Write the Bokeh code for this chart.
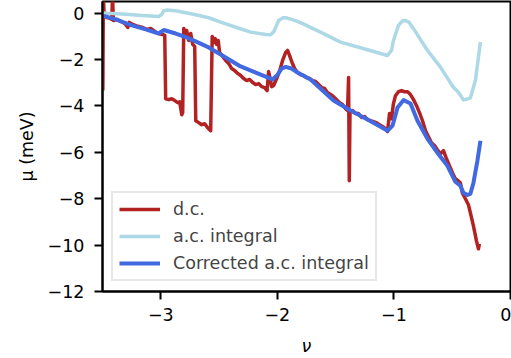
from bokeh.plotting import figure
from bokeh.models import Range1d, FixedTicker, Legend, LegendItem
from bokeh.embed import file_html
from bokeh.resources import INLINE

# --- data -------------------------------------------------------------
# d.c. measurement of the chemical potential vs filling
dc_nu = [-3.497, -3.493, -3.485, -3.463, -3.437, -3.42, -3.414, -3.407, -3.377,
         -3.343, -3.309, -3.283, -3.27, -3.24, -3.198, -3.155, -3.12, -3.086,
         -3.052, -3.018, -2.985, -2.966, -2.958, -2.932, -2.906, -2.88, -2.855,
         -2.838, -2.82, -2.812, -2.803, -2.79, -2.778, -2.76, -2.743, -2.726,
         -2.709, -2.7, -2.675, -2.649, -2.623, -2.598, -2.572, -2.559, -2.546,
         -2.533, -2.521, -2.508, -2.495, -2.469, -2.443, -2.418, -2.392, -2.366,
         -2.34, -2.315, -2.289, -2.263, -2.238, -2.212, -2.186, -2.16, -2.135,
         -2.109, -2.088, -2.075, -2.062, -2.049, -2.032, -2.006, -1.98, -1.955,
         -1.929, -1.912, -1.895, -1.874, -1.852, -1.827, -1.801, -1.775, -1.75,
         -1.724, -1.698, -1.672, -1.646, -1.621, -1.595, -1.569, -1.543, -1.518,
         -1.492, -1.466, -1.441, -1.415, -1.398, -1.389, -1.383, -1.377, -1.355,
         -1.329, -1.304, -1.278, -1.252, -1.227, -1.201, -1.175, -1.15, -1.124,
         -1.098, -1.072, -1.055, -1.038, -1.021, -1.004, -0.987, -0.961, -0.935,
         -0.909, -0.883, -0.858, -0.832, -0.806, -0.781, -0.755, -0.729, -0.704,
         -0.678, -0.652, -0.627, -0.601, -0.575, -0.549, -0.524, -0.498, -0.473,
         -0.447, -0.43, -0.413, -0.387, -0.361, -0.344, -0.318, -0.292, -0.275,
         -0.267]
dc_mu = [-3.34, 0.75, -0.14, -0.19, -0.23, -0.27, 0.75, -0.32, -0.27,
         -0.36, -0.44, -0.62, -0.4, -0.49, -0.57, -0.62, -0.7, -0.66,
         -0.79, -0.88, -0.92, -0.96, -3.69, -3.73, -3.69, -3.77, -3.86,
         -3.82, -4.38, -4.29, -0.66, -1.0, -0.75, -1.18, -0.88, -1.35,
         -1.44, -4.64, -4.72, -4.81, -4.77, -4.94, -5.07, -1.01, -1.27,
         -1.1, -1.35, -1.18, -1.7, -1.87, -2.04, -2.17, -2.39, -2.48,
         -2.6, -2.69, -2.82, -2.91, -2.86, -2.99, -3.08, -3.04, -3.17,
         -3.21, -3.34, -2.52, -2.82, -3.17, -3.12, -2.82, -2.48, -2.04,
         -1.7, -1.61, -1.83, -2.13, -2.39, -2.56, -2.65, -2.69, -2.78,
         -2.82, -2.91, -2.95, -3.08, -3.21, -3.25, -3.43, -3.51, -3.6,
         -3.73, -3.86, -3.94, -4.12, -4.2, -2.78, -7.23, -4.29, -4.2,
         -4.33, -4.33, -4.5, -4.46, -4.59, -4.64, -4.68, -4.72, -4.81,
         -4.89, -4.98, -5.11, -4.33, -4.55, -3.9, -3.56, -3.39, -3.34,
         -3.39, -3.39, -3.51, -3.73, -3.99, -4.29, -4.64, -5.07, -5.33,
         -5.59, -5.71, -5.89, -6.06, -5.93, -6.28, -6.58, -6.88, -7.14,
         -7.23, -7.32, -7.75, -8.0, -8.26, -8.61, -9.17, -9.82, -10.16,
         -9.95]

# a.c. integral
ac_nu = [-3.49, -3.3, -3.163, -3.018, -2.99, -2.975, -2.95, -2.872, -2.72,
         -2.589, -2.486, -2.35, -2.229, -2.1, -2.058, -2.03, -1.989, -1.95,
         -1.929, -1.87, -1.801, -1.63, -1.458, -1.227, -1.055, -1.02, -1.004,
         -0.961, -0.925, -0.901, -0.87, -0.832, -0.712, -0.601, -0.49, -0.447,
         -0.404, -0.37, -0.344, -0.301, -0.258]
ac_mu = [0.0, -0.05, -0.1, -0.15, -0.05, 0.1, 0.13, 0.1, -0.05,
         -0.2, -0.39, -0.62, -0.82, -0.92, -0.93, -0.8, -0.32, -0.2,
         -0.2, -0.28, -0.41, -0.82, -1.25, -1.58, -1.83, -1.6, -1.18,
         -0.53, -0.33, -0.32, -0.4, -0.67, -1.61, -2.33, -3.2, -3.41,
         -3.74, -3.7, -3.65, -2.9, -1.25]

# corrected a.c. integral
cor_nu = [-3.489, -3.386, -3.249, -3.129, -3.018, -2.975, -2.872, -2.786,
          -2.701, -2.589, -2.486, -2.315, -2.143, -2.041, -1.998, -1.964,
          -1.929, -1.878, -1.827, -1.715, -1.518, -1.372, -1.227, -1.115,
          -1.055, -1.012, -0.969, -0.917, -0.858, -0.798, -0.712, -0.627,
          -0.541, -0.473, -0.43, -0.404, -0.369, -0.344, -0.318, -0.284,
          -0.258]
cor_mu = [-0.12, -0.27, -0.53, -0.7, -0.88, -0.73, -0.88, -1.03,
          -1.22, -1.48, -1.78, -2.3, -2.65, -2.86, -2.65, -2.39,
          -2.32, -2.39, -2.56, -2.86, -3.77, -4.2, -4.59, -4.9,
          -5.07, -4.85, -4.07, -3.75, -3.9, -4.64, -5.42, -6.02,
          -6.58, -7.27, -7.44, -7.75, -7.84, -7.79, -7.32, -6.37,
          -5.5]

x_ticks = [-3, -2, -1, 0]
x_tick_labels = ["\u22123", "\u22122", "\u22121", "0"]
y_ticks = [-12, -10, -8, -6, -4, -2, 0]
y_tick_labels = ["\u221212", "\u221210", "\u22128", "\u22126", "\u22124", "\u22122", "0"]

series_labels = ["d.c.", "a.c. integral", "Corrected a.c. integral"]
series_colors = ["#b22222", "#add8e6", "#4169e1"]

FONT = "DejaVu Sans"
FS = "17.5px"

# --- figure -----------------------------------------------------------
p = figure(width=511, height=358, output_backend="svg", toolbar_location=None,
           x_range=Range1d(-3.5, 0.0), y_range=Range1d(-12.0, 0.5),
           min_border_left=102, min_border_right=1, min_border_top=1,
           min_border_bottom=67)
p.background_fill_color = "white"
p.border_fill_color = "white"
p.outline_line_color = "black"
p.outline_line_width = 2
p.grid.visible = False

r_dc = p.line(dc_nu, dc_mu, line_color=series_colors[0], line_width=3.5,
              line_join="round")
r_ac = p.line(ac_nu, ac_mu, line_color=series_colors[1], line_width=3.5,
              line_join="round")
r_cor = p.line(cor_nu, cor_mu, line_color=series_colors[2], line_width=4,
               line_join="round")

for ax in (p.xaxis[0], p.yaxis[0]):
    ax.axis_line_width = 2
    ax.major_tick_line_width = 2
    ax.major_tick_out = 8
    ax.major_tick_in = 0
    ax.minor_tick_line_color = None
    ax.major_label_text_font = FONT
    ax.major_label_text_font_size = FS
    ax.major_label_text_color = "black"
    ax.axis_label_text_font = FONT
    ax.axis_label_text_font_size = FS
    ax.axis_label_text_color = "black"

p.xaxis.ticker = FixedTicker(ticks=x_ticks)
p.xaxis.major_label_overrides = dict(zip(x_ticks, x_tick_labels))
p.xaxis.major_label_standoff = 8
p.xaxis.axis_label = "\u03bd"
p.xaxis.axis_label_text_font_style = "italic"
p.xaxis.axis_label_standoff = 12

p.yaxis.ticker = FixedTicker(ticks=y_ticks)
p.yaxis.major_label_overrides = dict(zip(y_ticks, y_tick_labels))
p.yaxis.major_label_standoff = 10
p.yaxis.axis_label = "\u03bc (meV)"
p.yaxis.axis_label_text_font_style = "normal"
p.yaxis.axis_label_standoff = 8

legend = Legend(
    items=[LegendItem(label=series_labels[0], renderers=[r_dc]),
           LegendItem(label=series_labels[1], renderers=[r_ac]),
           LegendItem(label=series_labels[2], renderers=[r_cor])],
    location=(9, 10),
    glyph_width=41, glyph_height=20, label_height=20,
    label_standoff=13, spacing=7, padding=6, margin=0,
    label_text_font=FONT, label_text_font_size=FS,
    border_line_color="#d0d0d0", border_line_width=2,
    background_fill_color="white", background_fill_alpha=0.8,
)
p.add_layout(legend)

open("out.html", "w").write(file_html(p, INLINE))
